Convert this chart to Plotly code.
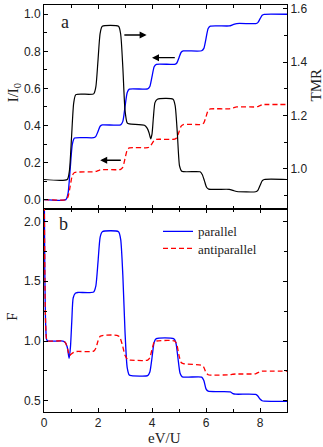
import plotly.graph_objects as go

# ---- data ----
# panel a: current (left axis) and TMR (right axis) vs eV/U
ip_x = [0, 0.81, 0.89, 0.97, 1.05, 1.13, 1.84, 1.92, 2.0, 2.08, 2.16, 2.84, 2.92, 3.0, 3.08, 3.16,
        3.84, 3.92, 4.0, 4.08, 4.16, 4.84, 4.92, 5.0, 5.08, 5.16, 5.84, 5.92, 6.0, 6.08, 6.16,
        6.86, 7.0, 7.14, 7.84, 7.92, 8.0, 8.08, 8.16, 9]
ip_y = [0, 0, 0.033, 0.166, 0.299, 0.332, 0.334, 0.341, 0.368, 0.396, 0.403, 0.403, 0.422, 0.50, 0.577, 0.596,
        0.597, 0.610, 0.663, 0.717, 0.730, 0.730, 0.737, 0.766, 0.795, 0.802, 0.803, 0.816, 0.869, 0.923, 0.936,
        0.937, 0.944, 0.950, 0.950, 0.955, 0.975, 0.995, 1.0, 1.0]

iap_x = ip_x
iap_y = [0, 0, 0.015, 0.073, 0.131, 0.146, 0.150, 0.152, 0.156, 0.160, 0.162, 0.163, 0.175, 0.221, 0.267, 0.279,
         0.280, 0.285, 0.302, 0.320, 0.325, 0.326, 0.334, 0.365, 0.397, 0.405, 0.406, 0.414, 0.447, 0.481, 0.489,
         0.490, 0.495, 0.500, 0.500, 0.502, 0.507, 0.512, 0.513, 0.513]

tmr_x = [0, 0.86, 0.94, 1.02, 1.10, 1.18, 1.84, 1.92, 2.0, 2.08, 2.16, 2.76, 2.84, 2.92, 3.0, 3.08, 3.16,
         3.72, 3.82, 3.89, 3.95, 4.0, 4.05, 4.11, 4.2, 4.78, 4.86, 4.94, 5.02, 5.10, 5.78, 5.86, 5.94, 6.02, 6.10,
         6.86, 7.0, 7.14, 7.84, 7.92, 8.0, 8.08, 8.16, 9]
tmr_y = [0.959, 0.959, 0.991, 1.118, 1.246, 1.278, 1.281, 1.307, 1.407, 1.509, 1.535, 1.535, 1.505, 1.38, 1.22, 1.172, 1.168,
         1.163, 1.152, 1.135, 1.112, 1.13, 1.19, 1.248, 1.261, 1.261, 1.235, 1.13, 1.01, 0.99, 0.988, 0.978, 0.955, 0.93, 0.923,
         0.922, 0.918, 0.914, 0.913, 0.918, 0.936, 0.954, 0.959, 0.959]
tmr_ticks = [1.0, 1.2, 1.4, 1.6]

# panel b: Fano factor
fp_x = [0, 0.03, 0.06, 0.1, 0.15, 0.7, 0.78, 0.86, 0.93, 0.98, 1.03, 1.08, 1.16, 1.25, 1.84, 1.92, 2.0, 2.08, 2.16,
        2.76, 2.84, 2.92, 3.0, 3.08, 3.16, 3.24, 3.84, 3.92, 4.0, 4.08, 4.16, 4.8, 4.88, 4.96, 5.04, 5.12,
        5.84, 5.92, 6.0, 6.08, 6.9, 7.0, 7.1, 7.84, 7.92, 8.0, 8.08, 8.16, 9]
fp_y = [2.6, 1.6, 1.15, 1.01, 1.0, 1.0, 0.99, 0.95, 0.855, 0.95, 1.17, 1.36, 1.40, 1.406, 1.41, 1.46, 1.66, 1.87, 1.915,
        1.915, 1.85, 1.55, 1.08, 0.78, 0.715, 0.71, 0.71, 0.74, 0.86, 0.99, 1.02, 1.02, 0.99, 0.86, 0.73, 0.70,
        0.698, 0.67, 0.60, 0.58, 0.575, 0.56, 0.555, 0.553, 0.54, 0.515, 0.50, 0.497, 0.495]

fap_x = [0, 0.03, 0.06, 0.1, 0.15, 0.7, 0.8, 0.88, 0.94, 1.0, 1.1, 1.2, 1.84, 1.92, 2.0, 2.08, 2.2, 2.7, 2.8, 2.9,
         3.0, 3.1, 3.2, 3.84, 3.92, 4.0, 4.08, 4.16, 4.84, 4.92, 5.0, 5.08, 5.16, 5.84, 5.92, 6.0, 6.08, 6.16,
         6.9, 7.0, 7.1, 7.84, 7.92, 8.0, 8.08, 9]
fap_y = [2.6, 1.6, 1.15, 1.01, 1.0, 1.0, 0.985, 0.93, 0.877, 0.89, 0.905, 0.912, 0.915, 0.94, 1.0, 1.04, 1.048, 1.048, 1.035, 0.97,
         0.88, 0.845, 0.84, 0.84, 0.86, 0.93, 0.99, 1.0, 1.0, 0.97, 0.88, 0.82, 0.81, 0.797, 0.78, 0.735, 0.718, 0.715,
         0.718, 0.722, 0.724, 0.726, 0.735, 0.745, 0.748, 0.748]

W, H = 323, 447
L, R, T, B = 44, 36, 2, 35
SERIF = 'Liberation Serif'
SANS = 'Liberation Sans'


def px(x, y):
    """pixel position in the page -> paper coordinates"""
    return (x - L) / (W - L - R), (H - B - y) / (H - T - B)


fig = go.Figure()

blue = dict(color='#0000ff', width=1.3, shape='spline', smoothing=0.6)
red = dict(color='#ff0000', width=1.3, dash='5px,3px', shape='spline', smoothing=0.6)
black = dict(color='#000000', width=1.2, shape='spline', smoothing=0.6)

fig.add_trace(go.Scatter(x=ip_x, y=ip_y, mode='lines', line=blue, xaxis='x', yaxis='y', showlegend=False))
fig.add_trace(go.Scatter(x=iap_x, y=iap_y, mode='lines', line=red, xaxis='x', yaxis='y', showlegend=False))
fig.add_trace(go.Scatter(x=tmr_x, y=tmr_y, mode='lines', line=black, xaxis='x', yaxis='y2', showlegend=False))
fig.add_trace(go.Scatter(x=fp_x, y=fp_y, mode='lines', line=blue, xaxis='x2', yaxis='y3',
                         name='parallel', legend='legend'))
fig.add_trace(go.Scatter(x=fap_x, y=fap_y, mode='lines', line=red, xaxis='x2', yaxis='y3',
                         name='antiparallel', legend='legend2'))

axis_common = dict(showline=True, linecolor='black', linewidth=1, ticks='inside', ticklen=4,
                   tickcolor='black', showgrid=False, zeroline=False, ticklabeloverflow='allow',
                   tickfont=dict(family=SANS, size=12, color='#222'))
minor = dict(ticks='inside', ticklen=3, tickcolor='black', showgrid=False)
leg = dict(xanchor='left', yanchor='middle', bgcolor='rgba(0,0,0,0)',
           font=dict(family=SERIF, size=13, color='#222'))

fig.update_layout(
    width=W, height=H,
    margin=dict(l=L, r=R, t=T, b=B),
    plot_bgcolor='white', paper_bgcolor='white',
    xaxis=dict(domain=[0, 1], anchor='y', range=[0, 9], dtick=2, showticklabels=False,
               mirror='ticks', minor=dict(dtick=1, **minor), **axis_common),
    yaxis=dict(domain=[0.5, 1], anchor='x', range=[-0.048, 1.05], dtick=0.2, tickformat='.1f',
               minor=dict(dtick=0.1, **minor), **axis_common),
    yaxis2=dict(overlaying='y', anchor='x', side='right', range=[0.85, 1.615],
                tickvals=tmr_ticks, tickformat='.1f', minor=dict(dtick=0.1, **minor), **axis_common),
    xaxis2=dict(domain=[0, 1], anchor='y3', range=[0, 9], dtick=2, mirror='ticks',
                minor=dict(dtick=1, **minor), **axis_common),
    yaxis3=dict(domain=[0, 0.5], anchor='x2', range=[0.406, 2.109], dtick=0.5, tickformat='.1f',
                mirror='ticks', minor=dict(dtick=0.25, **minor), **axis_common),
    legend=dict(x=px(158, 0)[0], y=px(0, 230)[1], **leg),
    legend2=dict(x=px(158, 0)[0], y=px(0, 247.3)[1], **leg),
)

# axis titles and panel labels
texts = [
    ('I/I<sub>0</sub>', 14, 91, -90, 15),
    ('TMR', 316, 83, -90, 15),
    ('F', 12, 316, -90, 15),
    ('eV/U', 164, 438, 0, 15),
    ('a', 64.5, 19, 0, 18),
    ('b', 63.5, 223, 0, 18),
]
for txt, x, y, ang, size in texts:
    ax_, ay_ = px(x, y)
    fig.add_annotation(text=txt, x=ax_, y=ay_, xref='paper', yref='paper', showarrow=False,
                       textangle=ang, xanchor='center', yanchor='middle',
                       font=dict(family=SERIF, size=size, color='#222'))

# arrows telling which axis each curve uses
arrows = [((2.92, 0.888), (3.8, 0.888)),
          ((4.9, 0.766), (4.0, 0.766)),
          ((2.9, 0.212), (2.08, 0.212))]
for (x0, y0), (x1, y1) in arrows:
    fig.add_annotation(x=x1, y=y1, ax=x0, ay=y0, xref='x', yref='y', axref='x', ayref='y',
                       text='', showarrow=True, arrowhead=2, arrowsize=1, arrowwidth=1.4,
                       arrowcolor='black')

# the page body has a default 8px margin; drop it so the figure sits at the corner
fig.write_html("out.html", config={'displayModeBar': False},
               post_script="document.body.style.margin='0px';")
